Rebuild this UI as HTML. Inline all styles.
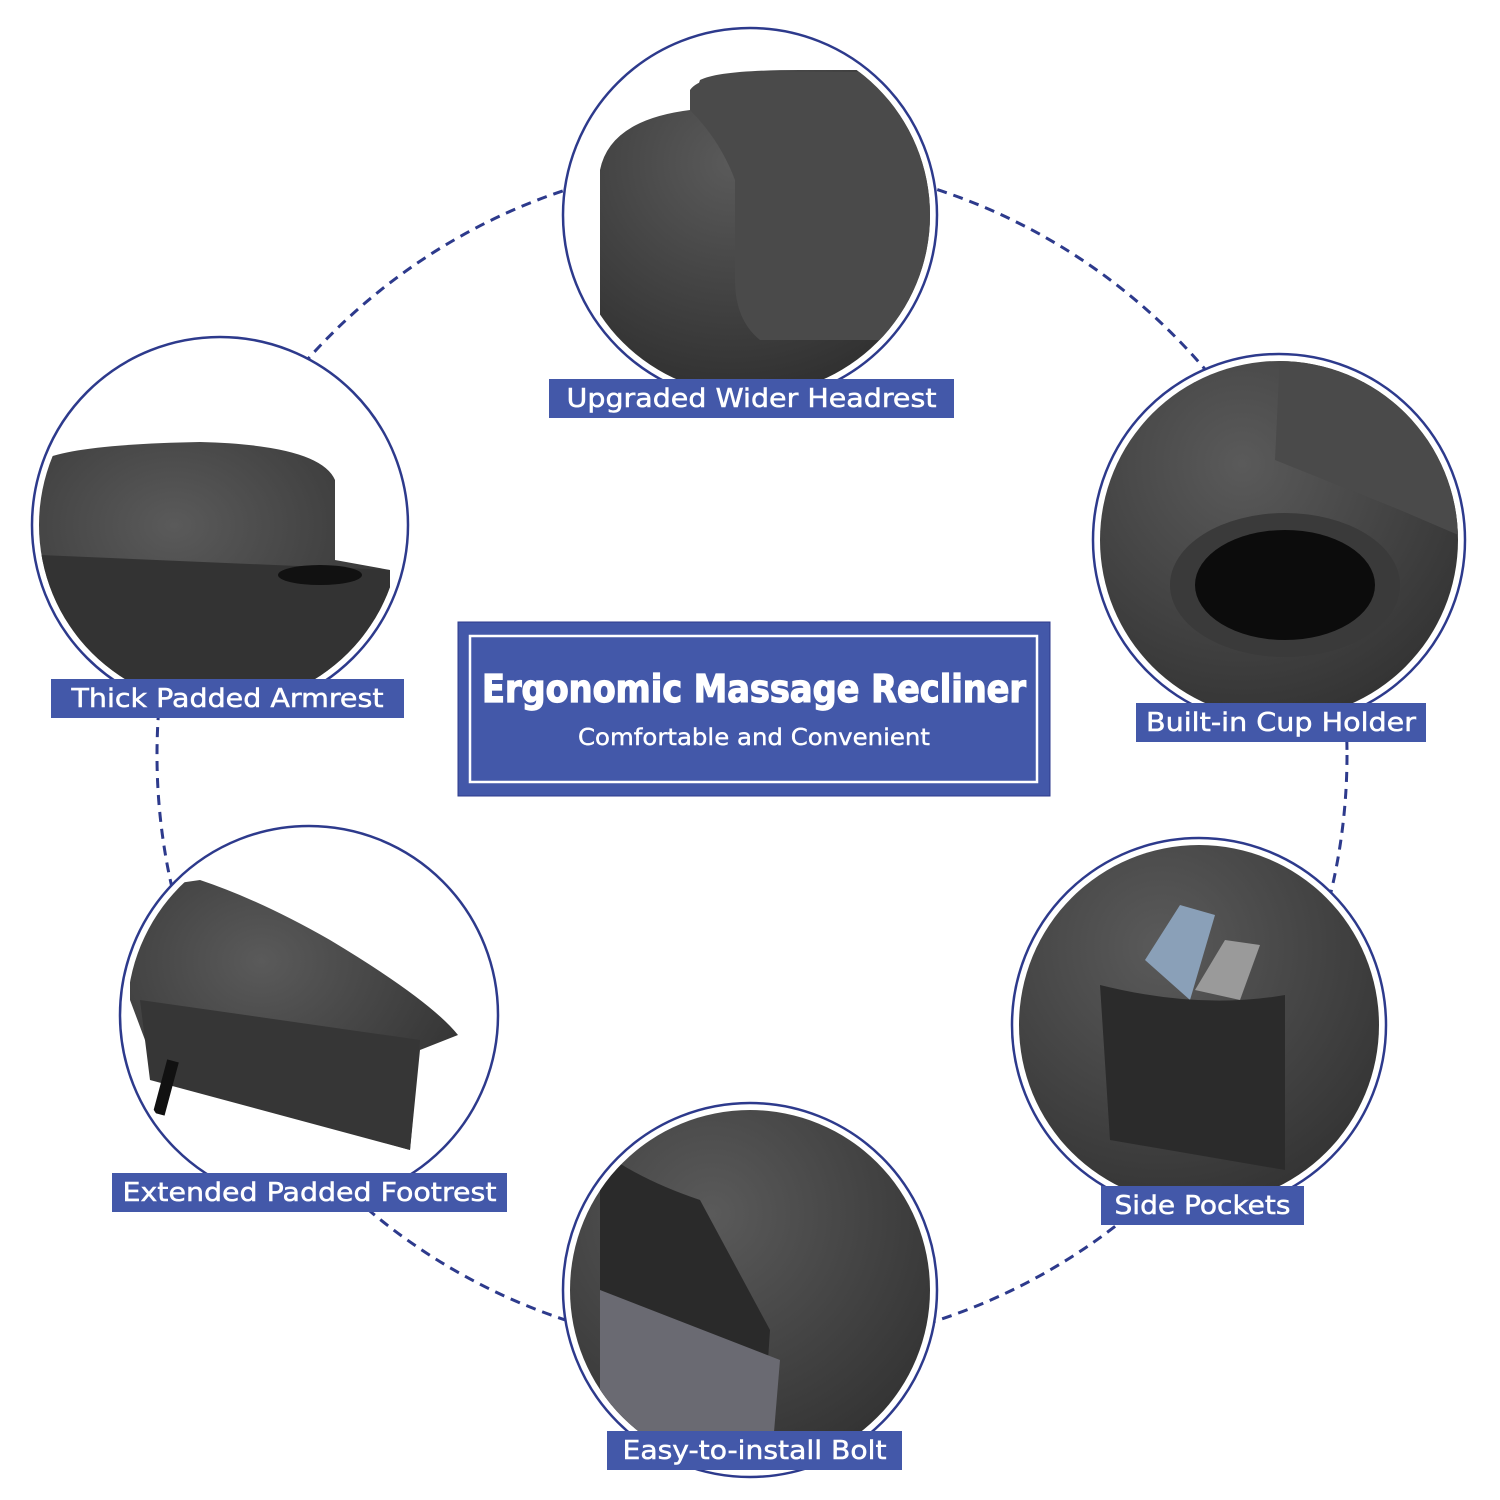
<!DOCTYPE html>
<html><head><meta charset="utf-8"><style>
html,body{margin:0;padding:0;background:#fff}
svg{display:block}
.lbl{font-family:"DejaVu Sans","Liberation Sans",sans-serif;font-size:26px;fill:#fff;stroke:#fff;stroke-width:0.5}
</style></head><body>
<svg width="1500" height="1500" viewBox="0 0 1500 1500" xmlns="http://www.w3.org/2000/svg">
<defs>
<clipPath id="c1"><circle cx="750" cy="215" r="180"/></clipPath>
<clipPath id="c2"><circle cx="220" cy="525" r="181"/></clipPath>
<clipPath id="c3"><circle cx="1279" cy="540" r="179"/></clipPath>
<clipPath id="c4"><circle cx="309" cy="1015" r="182"/></clipPath>
<clipPath id="c5"><circle cx="1199" cy="1025" r="180"/></clipPath>
<clipPath id="c6"><circle cx="750" cy="1290" r="180"/></clipPath>
<radialGradient id="g" cx="0.4" cy="0.3" r="0.8"><stop offset="0" stop-color="#5a5a5a"/><stop offset="1" stop-color="#2e2e2e"/></radialGradient>
</defs>
<circle cx="752" cy="755" r="595" fill="none" stroke="#2d3a8c" stroke-width="3" stroke-dasharray="10 7"/>
<g fill="#fff" stroke="#2d3a8c" stroke-width="2.5">
<circle cx="750" cy="215" r="187"/>
<circle cx="220" cy="525" r="188"/>
<circle cx="1279" cy="540" r="186"/>
<circle cx="309" cy="1015" r="189"/>
<circle cx="1199" cy="1025" r="187"/>
<circle cx="750" cy="1290" r="187"/>
</g>
<g clip-path="url(#c1)">
<path d="M600 330 L600 170 Q610 120 690 110 L700 80 Q720 70 800 70 L930 70 L930 380 L600 380Z" fill="url(#g)"/>
<path d="M690 90 Q700 75 760 72 L930 72 L930 340 L760 340 Q735 320 735 280 L735 180 Q720 140 690 110Z" fill="#4a4a4a"/>
</g>
<g clip-path="url(#c2)">
<path d="M30 470 Q40 445 200 442 Q320 445 335 480 L335 560 L390 570 L390 720 L30 720Z" fill="url(#g)"/>
<path d="M40 555 L390 570 L390 720 L40 720Z" fill="#333"/>
<ellipse cx="320" cy="575" rx="42" ry="10" fill="#111"/>
</g>
<g clip-path="url(#c3)">
<rect x="1090" y="350" width="380" height="380" fill="url(#g)"/>
<path d="M1280 355 L1470 355 L1470 540 L1400 510 L1275 460Z" fill="#4a4a4a"/>
<ellipse cx="1285" cy="585" rx="115" ry="72" fill="#3a3a3a"/>
<ellipse cx="1285" cy="585" rx="90" ry="55" fill="#0c0c0c"/>
</g>
<g clip-path="url(#c4)">
<path d="M130 890 L200 880 Q260 900 330 940 Q430 1000 458 1035 L420 1050 L410 1150 L160 1080 L130 1000Z" fill="url(#g)"/>
<path d="M140 1000 L420 1040 L410 1150 L150 1080Z" fill="#363636"/>
<rect x="160" y="1060" width="12" height="55" fill="#111" transform="rotate(15 166 1087)"/>
</g>
<g clip-path="url(#c5)">
<rect x="1005" y="830" width="390" height="390" fill="url(#g)"/>
<path d="M1145 960 L1180 905 L1215 915 L1190 1000Z" fill="#8aa0b8"/>
<path d="M1195 990 L1225 940 L1260 945 L1240 1000Z" fill="#9a9a9a"/>
<path d="M1100 985 Q1200 1010 1285 995 L1285 1170 L1110 1140Z" fill="#2b2b2b"/>
</g>
<g clip-path="url(#c6)">
<rect x="560" y="1100" width="380" height="380" fill="url(#g)"/>
<path d="M600 1150 Q640 1180 700 1200 L770 1330 L760 1480 L600 1480Z" fill="#2a2a2a"/>
<path d="M600 1290 L780 1360 L770 1480 L600 1480Z" fill="#6a6a72"/>
</g>
<g fill="#4358a9">
<rect x="549" y="379" width="405" height="39"/>
<rect x="51" y="679" width="353" height="39"/>
<rect x="1136" y="703" width="290" height="39"/>
<rect x="112" y="1173" width="395" height="39"/>
<rect x="1101" y="1186" width="203" height="39"/>
<rect x="607" y="1431" width="295" height="39"/>
</g>
<g class="lbl" text-anchor="middle">
<text x="751.5" y="407" textLength="370" lengthAdjust="spacingAndGlyphs">Upgraded Wider Headrest</text>
<text x="227.5" y="707" textLength="312" lengthAdjust="spacingAndGlyphs">Thick Padded Armrest</text>
<text x="1281" y="731" textLength="270" lengthAdjust="spacingAndGlyphs">Built-in Cup Holder</text>
<text x="309.5" y="1201" textLength="374" lengthAdjust="spacingAndGlyphs">Extended Padded Footrest</text>
<text x="1202.5" y="1214" textLength="176" lengthAdjust="spacingAndGlyphs">Side Pockets</text>
<text x="754.5" y="1459" textLength="264" lengthAdjust="spacingAndGlyphs">Easy-to-install Bolt</text>
</g>
<rect x="458" y="622" width="592" height="174" fill="#4358a9" stroke="#2d3a8c" stroke-width="1"/>
<rect x="470" y="636" width="567" height="146" fill="none" stroke="#fff" stroke-width="2.5"/>
<text x="754" y="702" text-anchor="middle" font-family="'DejaVu Sans Condensed','DejaVu Sans',sans-serif" font-weight="bold" font-size="38" fill="#fff" stroke="#fff" stroke-width="1.2" textLength="544" lengthAdjust="spacingAndGlyphs">Ergonomic Massage Recliner</text>
<text x="754" y="745" text-anchor="middle" font-family="'DejaVu Sans','Liberation Sans',sans-serif" font-size="23" fill="#fff" stroke="#fff" stroke-width="0.4" textLength="352" lengthAdjust="spacingAndGlyphs">Comfortable and Convenient</text>
</svg>
</body></html>
